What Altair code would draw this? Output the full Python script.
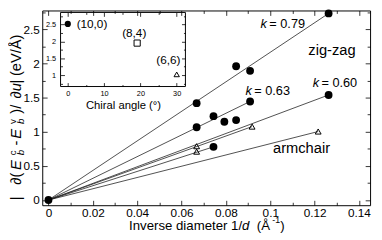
import altair as alt
import pandas as pd

# ---------------- data ----------------
circ_x = [0.0, 0.0668, 0.0668, 0.0744, 0.0744, 0.0793, 0.0846, 0.0846, 0.0909, 0.0909, 0.1263, 0.1263]
circ_y = [0.0, 1.418, 1.066, 1.228, 0.779, 1.146, 1.170, 1.958, 1.891, 1.443, 2.732, 1.538]
tri_x = [0.0668, 0.0668, 0.0918, 0.1216]
tri_y = [0.788, 0.708, 1.075, 1.003]
# fitted lines start at the origin and end at these points
line_end_x = [0.1263, 0.0909, 0.1263, 0.0918, 0.0744, 0.1216]
line_end_y = [2.732, 1.443, 1.538, 1.075, 0.779, 1.003]

k_text = ["= 0.79", "= 0.63", "= 0.60"]
k_x = [0.0956, 0.0888, 0.1191]
k_y = [2.517, 1.543, 1.656]
region_text = ["zig-zag", "armchair"]
region_x = [0.1278, 0.1141]
region_y = [2.116, 0.693]

x_ticks = [0, 0.02, 0.04, 0.06, 0.08, 0.1, 0.12, 0.14]
x_minor = [0.01, 0.03, 0.05, 0.07, 0.09, 0.11, 0.13]
y_ticks = [0, 0.5, 1, 1.5, 2, 2.5]
y_minor = [0.25, 0.75, 1.25, 1.75, 2.25, 2.75]

# inset
in_names = ["(10,0)", "(8,4)", "(6,6)"]
in_angle = [0, 19.1, 30]
in_val = [2.52, 1.95, 1.02]
in_lab_x = [2.43, 18.3, 27.7]
in_lab_y = [2.395, 2.133, 1.34]
in_x_ticks = [0, 10, 20, 30]
in_x_minor = [5, 15, 25]
in_y_ticks = [1, 1.5, 2, 2.5]
in_y_minor = [0.75, 1.25, 1.75, 2.25, 2.75]

FONT = "Liberation Sans"
W, H = 335, 199

circ_df = pd.DataFrame({"x": circ_x, "y": circ_y})
tri_df = pd.DataFrame({"x": tri_x, "y": tri_y})
rows = []
for i, (ex, ey) in enumerate(zip(line_end_x, line_end_y)):
    rows.append({"id": i, "x": 0.0, "y": 0.0})
    rows.append({"id": i, "x": ex, "y": ey})
line_df = pd.DataFrame(rows)
k_df = pd.DataFrame({"x": k_x, "y": k_y, "t": k_text})
reg_df = pd.DataFrame({"x": region_x, "y": region_y, "t": region_text})
in_df = pd.DataFrame({"a": in_angle, "v": in_val, "n": in_names})
in_lab_df = pd.DataFrame({"a": in_lab_x, "v": in_lab_y, "n": in_names})

XS = alt.Scale(domain=[-0.0028, 0.145], nice=False, zero=False)
YS = alt.Scale(domain=[-0.076, 2.775], nice=False, zero=False)
XI = alt.Scale(domain=[-2, 32.4], range=[18.7, 146.3], nice=False, zero=False)
YI = alt.Scale(domain=[0.66, 2.86], range=[77.7, 2.0], nice=False, zero=False)


def ax(orient, values, size, offset, labels=False, lp=3, lfs=12, fmt="~g"):
    kw = dict(orient=orient, values=values, tickSize=size, offset=offset,
              domain=False, grid=False, tickColor="black", tickWidth=0.8,
              title=None, labels=labels)
    if labels:
        kw.update(labelPadding=lp, labelFontSize=lfs, labelFont=FONT,
                  labelColor="black", labelFlush=False, labelOverlap=False,
                  format=fmt)
    return alt.Axis(**kw)


# ---------------- main plot ----------------
lines = alt.Chart(line_df).mark_line(color="#222", strokeWidth=0.8).encode(
    x=alt.X("x:Q", scale=XS, axis=ax("bottom", x_ticks, 5, -5, labels=True, lp=2.5, fmt=".2~f")),
    y=alt.Y("y:Q", scale=YS, axis=ax("left", y_ticks, 5, -5, labels=True, lp=3, fmt=".1~f")),
    detail="id:N",
)
minor_main = alt.Chart(circ_df).mark_point(opacity=0).encode(
    x=alt.X("x:Q", scale=XS, axis=ax("bottom", x_minor, 3, -3)),
    y=alt.Y("y:Q", scale=YS, axis=ax("left", y_minor, 3, -3)),
)
top_major = alt.Chart(circ_df).mark_point(opacity=0).encode(
    x=alt.X("x:Q", scale=XS, axis=ax("top", x_ticks, 5, -5)),
    y=alt.Y("y:Q", scale=YS, axis=ax("right", y_ticks, 5, -5)),
)
top_minor = alt.Chart(circ_df).mark_point(opacity=0).encode(
    x=alt.X("x:Q", scale=XS, axis=ax("top", x_minor, 3, -3)),
    y=alt.Y("y:Q", scale=YS, axis=ax("right", y_minor, 3, -3)),
)
circles = alt.Chart(circ_df).mark_point(
    shape="circle", filled=True, color="black", size=64, opacity=1
).encode(
    x=alt.X("x:Q", scale=XS, axis=None), y=alt.Y("y:Q", scale=YS, axis=None)
)
tris = alt.Chart(tri_df).mark_point(
    shape="triangle-up", filled=False, color="black", size=36, strokeWidth=1, opacity=1
).encode(
    x=alt.X("x:Q", scale=XS, axis=None), y=alt.Y("y:Q", scale=YS, axis=None)
)
k_it = alt.Chart(k_df).mark_text(
    text="k", font=FONT, fontSize=13, fontStyle="italic", align="left",
    baseline="alphabetic", color="black"
).encode(x=alt.X("x:Q", scale=XS, axis=None), y=alt.Y("y:Q", scale=YS, axis=None))
k_eq = alt.Chart(k_df).mark_text(
    font=FONT, fontSize=13, align="left", baseline="alphabetic", dx=9, color="black"
).encode(x=alt.X("x:Q", scale=XS, axis=None), y=alt.Y("y:Q", scale=YS, axis=None),
         text="t:N")
regions = alt.Chart(reg_df).mark_text(
    font=FONT, fontSize=15, align="center", baseline="alphabetic", color="black"
).encode(x=alt.X("x:Q", scale=XS, axis=None), y=alt.Y("y:Q", scale=YS, axis=None),
         text="t:N")

# ---------------- inset ----------------
one = alt.Data(values=[{"a": 0}])
in_frame = alt.Chart(one).mark_rect(fillOpacity=0, stroke="black", strokeWidth=1).encode(
    x=alt.value(18.7), x2=alt.value(146.3), y=alt.value(2.0), y2=alt.value(77.7)
)
in_circle = alt.Chart(in_df.iloc[[0]]).mark_point(
    shape="circle", filled=True, color="black", size=40, opacity=1
).encode(
    x=alt.X("a:Q", scale=XI, axis=ax("bottom", in_x_ticks, 4, -125.3, labels=True, lp=3.5, lfs=7.5, fmt="d")),
    y=alt.Y("v:Q", scale=YI, axis=ax("left", in_y_ticks, 4, -22.7, labels=True, lp=5, lfs=7.5, fmt=".1~f")),
)
in_square = alt.Chart(in_df.iloc[[1]]).mark_point(
    shape="square", filled=False, color="black", size=40, strokeWidth=1, opacity=1
).encode(x=alt.X("a:Q", scale=XI, axis=None), y=alt.Y("v:Q", scale=YI, axis=None))
in_tri = alt.Chart(in_df.iloc[[2]]).mark_point(
    shape="triangle-up", filled=False, color="black", size=30, strokeWidth=1, opacity=1
).encode(x=alt.X("a:Q", scale=XI, axis=None), y=alt.Y("v:Q", scale=YI, axis=None))
in_minor = alt.Chart(in_df).mark_point(opacity=0).encode(
    x=alt.X("a:Q", scale=XI, axis=ax("bottom", in_x_minor, 2, -123.3)),
    y=alt.Y("v:Q", scale=YI, axis=ax("left", in_y_minor, 2, -20.7)),
)
in_top = alt.Chart(in_df).mark_point(opacity=0).encode(
    x=alt.X("a:Q", scale=XI, axis=ax("top", in_x_ticks, 4, -6)),
    y=alt.Y("v:Q", scale=YI, axis=ax("right", in_y_ticks, 4, -192.7)),
)
in_top_minor = alt.Chart(in_df).mark_point(opacity=0).encode(
    x=alt.X("a:Q", scale=XI, axis=ax("top", in_x_minor, 2, -4)),
    y=alt.Y("v:Q", scale=YI, axis=ax("right", in_y_minor, 2, -190.7)),
)
in_lab_left = alt.Chart(in_lab_df.iloc[[0]]).mark_text(
    font=FONT, fontSize=12, baseline="alphabetic", align="left", color="black"
).encode(
    x=alt.X("a:Q", scale=XI, axis=None), y=alt.Y("v:Q", scale=YI, axis=None),
    text="n:N",
)
in_lab_center = alt.Chart(in_lab_df.iloc[1:]).mark_text(
    font=FONT, fontSize=12, baseline="alphabetic", align="center", color="black"
).encode(
    x=alt.X("a:Q", scale=XI, axis=None), y=alt.Y("v:Q", scale=YI, axis=None),
    text="n:N",
)
in_title = alt.Chart(one).mark_text(
    text="Chiral angle (°)", font=FONT, fontSize=11.5, align="center",
    baseline="alphabetic", color="black"
).encode(x=alt.value(83), y=alt.value(100.5))


# ---------------- axis titles built from pieces ----------------
def piece(text, x, y, size, italic=False, angle=0):
    kw = dict(text=text, font=FONT, fontSize=size, align="left",
              baseline="alphabetic", color="black")
    if italic:
        kw["fontStyle"] = "italic"
    if angle:
        kw["angle"] = angle
    return alt.Chart(one).mark_text(**kw).encode(x=alt.value(x), y=alt.value(y))


XB = 224.5   # baseline of the x title (plot-relative y)
xt = [
    piece("Inverse diameter 1/", 88.7, XB, 13.5),
    piece("d", 204.2, XB, 13.5, italic=True),
    piece("(Å", 219.2, XB, 13.5),
    piece("-1", 235.0, XB - 7.5, 9),
    piece(")", 243.2, XB, 13.5),
]
YB = -21.5    # baseline of the rotated y title (plot-relative x)
SUP = -27     # baseline of superscripts
SUB = -18.5   # baseline of subscripts
yt = [
    piece("|", YB, 194, 15, angle=270),
    piece("∂(", YB, 178, 15, angle=270),
    piece("E", YB, 163, 15, italic=True, angle=270),
    piece("b", SUB, 148, 10, italic=True, angle=270),
    piece("c", SUP, 148, 10, angle=270),
    piece("-", YB, 138, 15, angle=270),
    piece("E", YB, 131, 15, italic=True, angle=270),
    piece("b", SUB, 116, 10, italic=True, angle=270),
    piece("v", SUP, 116, 10, angle=270),
    piece(")/", YB, 105.5, 15, angle=270),
    piece("∂", YB, 90, 15, angle=270),
    piece("u", YB, 82.6, 15, italic=True, angle=270),
    piece("|", YB, 74.5, 15, angle=270),
    piece("(eV/Å)", YB, 67, 15, angle=270),
]

chart = alt.layer(
    lines, minor_main, top_major, top_minor, circles, tris, k_it, k_eq, regions,
    in_frame, in_circle, in_square, in_tri, in_minor, in_top, in_top_minor,
    in_lab_left, in_lab_center, in_title, *xt, *yt,
).resolve_scale(x="independent", y="independent").resolve_axis(
    x="independent", y="independent"
).properties(
    width=W, height=H,
    autosize=alt.AutoSizeParams(type="none"),
    padding={"left": 35, "top": 0, "right": 4, "bottom": 33},
).configure_view(stroke="black", strokeWidth=1)

chart.save("out.html", embed_options={"renderer": "svg", "actions": False})
